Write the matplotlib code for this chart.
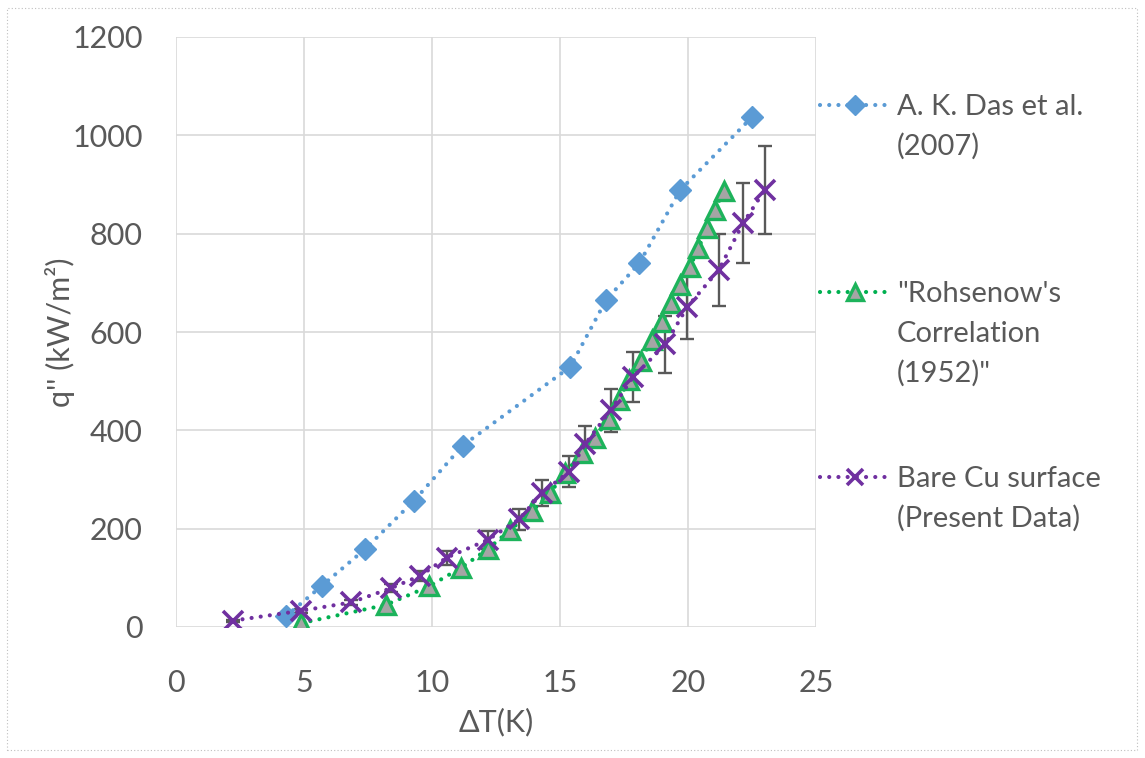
import matplotlib.pyplot as plt
from matplotlib.lines import Line2D
from matplotlib.patches import Rectangle

# Data
das_dt = [4.3, 5.7, 7.4, 9.3, 11.2, 15.4, 16.8, 18.1, 19.7, 22.5]
das_q = [22, 84, 159, 257, 369, 529, 665, 740, 889, 1037]

roh_dt = [4.9, 8.2, 9.9, 11.15, 12.17, 13.05, 13.9, 14.6, 15.2, 15.85, 16.37, 16.9,
          17.3, 17.7, 18.15, 18.58, 19.0, 19.34, 19.7, 20.08, 20.4, 20.75, 21.05, 21.4]
roh_q = [8, 45, 83, 121, 158, 197, 235, 272, 313, 353, 384, 424,
         462, 503, 541, 584, 621, 658, 696, 733, 770, 811, 848, 887]

cu_dt = [2.24, 4.88, 6.84, 8.4, 9.53, 10.57, 12.17, 13.4, 14.3, 15.36, 15.98, 16.98,
         17.85, 19.12, 19.97, 21.2, 22.16, 23.0]
cu_q = [13, 33, 50, 79, 104, 141, 177, 219, 273, 316, 372, 441,
        508, 575, 651, 726, 822, 889]
cu_err = [2, 4, 5, 8, 10, 14, 18, 22, 27, 32, 37, 44, 51, 58, 65, 73, 82, 89]

x_ticks = [0, 5, 10, 15, 20, 25]
y_ticks = [0, 200, 400, 600, 800, 1000, 1200]

legend_labels = [
    ["A. K. Das et al.", "(2007)"],
    ["\"Rohsenow's", "Correlation", "(1952)\""],
    ["Bare Cu surface", "(Present Data)"],
]

# Style
plt.rcParams['font.family'] = ['Lato', 'DejaVu Sans']
TEXT = '#595959'
GRID = '#D9D9D9'
BLUE = '#5B9BD5'
GREEN = '#00B050'
GRAY = '#A5A5A5'
PURPLE = '#7030A0'
DOT = (0, (0.01, 2.2))

fig = plt.figure(figsize=(11.45, 7.58), dpi=100)
ax = fig.add_axes([176 / 1145, 1 - 627 / 758, 640 / 1145, 590 / 758])

# outer dotted chart border
fig.patches.append(Rectangle((7 / 1145, 8 / 758), 1130 / 1145, 742 / 758,
                             transform=fig.transFigure, fill=False,
                             edgecolor='#BFBFBF', linestyle=(0, (1, 2)), linewidth=0.8))

line_kw = dict(linestyle=DOT, linewidth=3, dash_capstyle='round')

ax.plot(das_dt, das_q, color=BLUE, marker='D', markersize=11,
        markerfacecolor=BLUE, markeredgecolor=BLUE, zorder=3, **line_kw)

ax.errorbar(cu_dt, cu_q, yerr=cu_err, fmt='none', ecolor=TEXT,
            elinewidth=1.7, capsize=5, capthick=1.7, zorder=2)

ax.plot(roh_dt, roh_q, color=GREEN, marker='^', markersize=13,
        markerfacecolor=GRAY, markeredgecolor='#1DB35B', markeredgewidth=2.4,
        zorder=4, **line_kw)

ax.plot(cu_dt, cu_q, color=PURPLE, marker='x', markersize=14,
        markeredgecolor=PURPLE, markeredgewidth=2.6, zorder=5, **line_kw)

ax.set_xlim(0, 25)
ax.set_ylim(0, 1200)
ax.set_xticks(x_ticks)
ax.set_yticks(y_ticks)
ax.grid(True, color=GRID, linewidth=1.2)
ax.set_axisbelow(True)
for s in ax.spines.values():
    s.set_visible(False)
ax.tick_params(length=0, labelsize=22, labelcolor=TEXT)
ax.tick_params(axis='x', pad=30)
ax.tick_params(axis='y', pad=24)

ax.set_xlabel('ΔT(K)', fontsize=22, color=TEXT, labelpad=8)
ax.set_ylabel('q\'\' (kW/m²)', fontsize=22, color=TEXT, labelpad=-2)

# legend, drawn by hand so each entry sits like the Excel one
handle_styles = [
    dict(color=BLUE, marker='D', markersize=10, markerfacecolor=BLUE, markeredgecolor=BLUE),
    dict(color=GREEN, marker='^', markersize=11, markerfacecolor=GRAY,
         markeredgecolor='#1DB35B', markeredgewidth=2.4),
    dict(color=PURPLE, marker='x', markersize=12, markeredgecolor=PURPLE, markeredgewidth=2.6),
]
first_baseline = [115, 302, 487]
line_gap = 40
for labels, style, base in zip(legend_labels, handle_styles, first_baseline):
    yh = 1 - (base - 10) / 758
    fig.add_artist(Line2D([820 / 1145, 855 / 1145, 890 / 1145], [yh, yh, yh],
                          transform=fig.transFigure, markevery=[1],
                          **line_kw, **style))
    for i, txt in enumerate(labels):
        fig.text(897 / 1145, 1 - (base + i * line_gap) / 758, txt,
                 fontsize=21, color=TEXT, va='baseline', ha='left')

plt.savefig('out.png', dpi=100)
